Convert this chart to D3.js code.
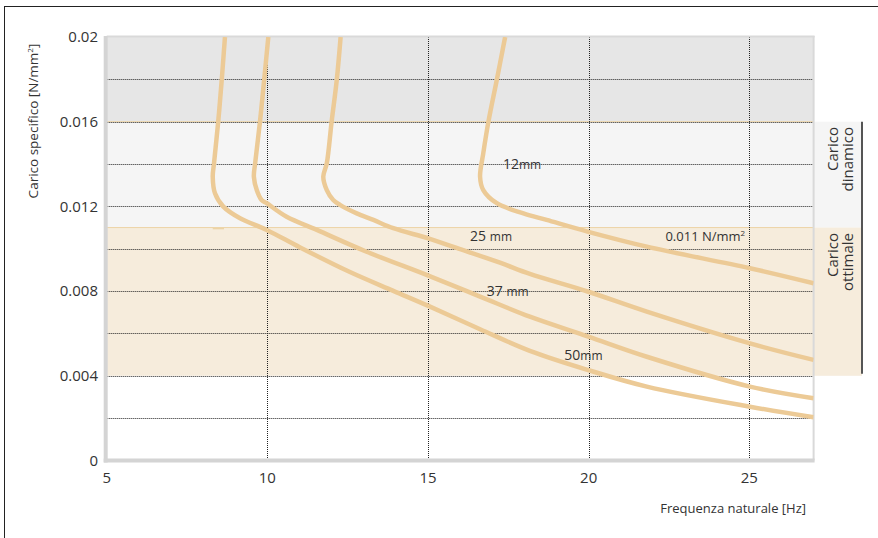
<!DOCTYPE html>
<html>
<head>
<meta charset="utf-8">
<script src="https://cdn.jsdelivr.net/npm/d3@7"></script>
<style>
  html, body { margin: 0; padding: 0; background: #fff; }
  svg { display: block; }
  text { font-family: "Open Sans", "DejaVu Sans", sans-serif; fill: #333; }
</style>
</head>
<body>
<script>
// ---- data ----
const xTicks = [5, 10, 15, 20, 25];
const yTicks = [0, 0.004, 0.008, 0.012, 0.016, 0.02];
const yTickLabels = ["0", "0.004", "0.008", "0.012", "0.016", "0.02"];
const yGrid = [0.002, 0.004, 0.006, 0.008, 0.01, 0.012, 0.014, 0.016, 0.018];
const xGrid = [10, 15, 20, 25];

const freq12 = [17.40, 17.14, 16.88, 16.72, 16.62, 16.72, 17.14, 17.97, 18.69, 19.99, 21.81, 25.02, 27.0];
const load12 = [0.0200, 0.01797, 0.0160, 0.01451, 0.0134, 0.01277, 0.01215, 0.01167, 0.01136, 0.0108, 0.0101, 0.00908, 0.00837];

const freq25 = [12.28, 12.16, 12.00, 11.85, 11.74, 11.85, 12.05, 12.26, 12.78, 13.30, 13.92, 15.01, 15.89, 17.24, 18.17, 19.99, 21.81, 25.02, 27.0];
const load25 = [0.0200, 0.01797, 0.0160, 0.01404, 0.0134, 0.01277, 0.0123, 0.01207, 0.01167, 0.01136, 0.01097, 0.01049, 0.01004, 0.00934, 0.00881, 0.00797, 0.00703, 0.00553, 0.00475];

const freq37 = [10.03, 9.90, 9.77, 9.62, 9.58, 9.67, 9.82, 9.98, 10.60, 11.54, 13.09, 15.01, 16.62, 18.17, 19.99, 21.81, 25.02, 27.0];
const load37 = [0.0200, 0.01797, 0.0160, 0.01404, 0.0134, 0.01277, 0.0123, 0.01215, 0.01151, 0.01089, 0.00986, 0.00873, 0.00774, 0.00679, 0.00585, 0.0049, 0.00349, 0.00294];

const freq50 = [8.68, 8.58, 8.47, 8.34, 8.30, 8.37, 8.63, 9.15, 9.98, 11.02, 12.57, 13.92, 15.01, 16.62, 18.17, 19.99, 21.81, 25.02, 27.0];
const load50 = [0.0200, 0.01797, 0.0160, 0.01404, 0.0134, 0.01262, 0.01199, 0.01144, 0.01089, 0.01006, 0.0089, 0.00801, 0.0073, 0.0062, 0.00518, 0.00427, 0.00349, 0.00254, 0.00204];

const seriesNames = ["12", "25", "37", "50"];
const seriesFreq = [freq12, freq25, freq37, freq50];
const seriesLoad = [load12, load25, load37, load50];
// label anchor (frequency, load) for each series label
const labelFreq = [17.33, 16.31, 16.83, 19.24];
const labelLoad = [0.01377, 0.01038, 0.00777, 0.00475];
const labelGap = [false, true, true, false];

const bandDynamic = [0.011, 0.016];
const bandOptimal = [0.004, 0.011];
const bandTop = [0.016, 0.02];
const optimalLineText = "0.011 N/mm";

// ---- drawing ----
const W = 878, H = 538;
const svg = d3.select("body").append("svg").attr("width", W).attr("height", H);

const x = d3.scaleLinear().domain([5, 27]).range([106.7, 813.6]);
const y = d3.scaleLinear().domain([0, 0.02]).range([460.5, 37]);

// outer frame (left & top edges)
svg.append("line").attr("x1", 4.5).attr("x2", 4.5).attr("y1", 6).attr("y2", H).attr("stroke", "#222").attr("stroke-width", 1);
svg.append("line").attr("x1", 4).attr("x2", W).attr("y1", 6.5).attr("y2", 6.5).attr("stroke", "#222").attr("stroke-width", 1);

const xr = x.range();
const rightExtent = 862;

// bands
svg.append("rect").attr("x", xr[0]).attr("width", xr[1] - xr[0])
  .attr("y", y(bandTop[1])).attr("height", y(bandTop[0]) - y(bandTop[1])).attr("fill", "#e6e6e6");
svg.append("rect").attr("x", xr[0]).attr("width", rightExtent - xr[0])
  .attr("y", y(bandDynamic[1])).attr("height", y(bandDynamic[0]) - y(bandDynamic[1])).attr("fill", "#f5f5f5");
svg.append("rect").attr("x", xr[0]).attr("width", rightExtent - xr[0])
  .attr("y", y(bandOptimal[1])).attr("height", y(bandOptimal[0]) - y(bandOptimal[1])).attr("fill", "#f6ecdc");

// band boundary lines
[bandDynamic[1], bandOptimal[1]].forEach(v => {
  svg.append("line").attr("x1", xr[0]).attr("x2", xr[1]).attr("y1", y(v)).attr("y2", y(v))
    .attr("stroke", "#ecd3a6").attr("stroke-width", 1);
});
// small mark at 0.011
svg.append("line").attr("x1", x(8.3)).attr("x2", x(8.65)).attr("y1", y(0.011) + 1).attr("y2", y(0.011) + 1)
  .attr("stroke", "#ecd3a6").attr("stroke-width", 1.5);

// grid
const grid = svg.append("g");
grid.selectAll("line.h").data(yGrid).join("line").attr("class", "h")
  .attr("x1", xr[0]).attr("x2", xr[1])
  .attr("y1", d => Math.round(y(d)) + 0.5).attr("y2", d => Math.round(y(d)) + 0.5)
  .attr("stroke", "#222").attr("stroke-width", 1).attr("stroke-dasharray", "1,1");
grid.selectAll("line.v").data(xGrid).join("line").attr("class", "v")
  .attr("x1", d => Math.round(x(d)) + 0.5).attr("x2", d => Math.round(x(d)) + 0.5)
  .attr("y1", y(0.02)).attr("y2", y(0))
  .attr("stroke", "#222").attr("stroke-width", 1).attr("stroke-dasharray", "1,1");

// right vertical bracket line
svg.append("line").attr("x1", rightExtent).attr("x2", rightExtent)
  .attr("y1", y(bandDynamic[1])).attr("y2", y(bandOptimal[0]) - 2)
  .attr("stroke", "#555").attr("stroke-width", 2);

// plot frame
svg.append("line").attr("x1", xr[0]).attr("x2", xr[1] + 1).attr("y1", y(0.02) - 0.5).attr("y2", y(0.02) - 0.5)
  .attr("stroke", "#d9d9d9").attr("stroke-width", 2);
svg.append("line").attr("x1", xr[1]).attr("x2", xr[1]).attr("y1", y(0.02) - 1).attr("y2", y(0))
  .attr("stroke", "#d9d9d9").attr("stroke-width", 2);

// curves
const line = d3.line().x(d => x(d[0])).y(d => y(d[1])).curve(d3.curveCatmullRom.alpha(0.5));
svg.append("clipPath").attr("id", "pc").append("rect")
  .attr("x", xr[0]).attr("y", y(0.02)).attr("width", xr[1] - xr[0]).attr("height", y(0) - y(0.02));
seriesNames.forEach((name, i) => {
  const pts = seriesFreq[i].map((f, j) => [f, seriesLoad[i][j]]);
  svg.append("path").datum(pts).attr("d", line)
    .attr("fill", "none").attr("stroke", "#ecca96").attr("stroke-width", 4.5)
    .attr("clip-path", "url(#pc)");
});

// axes lines (thick gray)
svg.append("line").attr("x1", xr[0] - 1).attr("x2", xr[0] - 1).attr("y1", y(0.02) - 1).attr("y2", y(0) + 2)
  .attr("stroke", "#d4d4d4").attr("stroke-width", 4);
svg.append("line").attr("x1", xr[0] - 3).attr("x2", xr[1] + 1).attr("y1", y(0)).attr("y2", y(0))
  .attr("stroke", "#d4d4d4").attr("stroke-width", 4);

// tick labels
svg.append("g").selectAll("text").data(yTicks).join("text")
  .attr("x", 98).attr("y", d => y(d)).attr("dy", "0.35em").attr("text-anchor", "end")
  .attr("font-size", 15).text((d, i) => yTickLabels[i]);
svg.append("g").selectAll("text").data(xTicks).join("text")
  .attr("x", d => x(d)).attr("y", 483).attr("text-anchor", "middle")
  .attr("font-size", 15).text(d => d);

// axis titles
const yt = svg.append("text").attr("transform", "translate(38,121) rotate(-90)")
  .attr("text-anchor", "middle").attr("font-size", 13.5);
yt.append("tspan").text("Carico specifico [N/mm");
yt.append("tspan").attr("font-size", 8).attr("dy", -5).text("2");
yt.append("tspan").attr("dy", 5).text("]");

svg.append("text").attr("x", 806).attr("y", 513).attr("text-anchor", "end")
  .attr("font-size", 13).text("Frequenza naturale [Hz]");

// series labels
seriesNames.forEach((name, i) => {
  const t = svg.append("text").attr("x", x(labelFreq[i])).attr("y", y(labelLoad[i])).attr("font-size", 14);
  t.append("tspan").text(name + (labelGap[i] ? " " : ""));
  t.append("tspan").attr("font-size", 12).text("mm");
});

// 0.011 label
const ol = svg.append("text").attr("x", x(24.87)).attr("y", y(0.01038)).attr("text-anchor", "end").attr("font-size", 13);
ol.append("tspan").text(optimalLineText);
ol.append("tspan").attr("font-size", 8).attr("dy", -5).text("2");

// right band labels (end-aligned toward the top of each band)
function sideLabel(lines, yTop) {
  const t = svg.append("text").attr("transform", `translate(841,${yTop}) rotate(-90)`)
    .attr("text-anchor", "end").attr("font-size", 15);
  t.append("tspan").attr("x", 0).attr("dy", "-0.2em").text(lines[0]);
  t.append("tspan").attr("x", 0).attr("dy", "1.0em").text(lines[1]);
}
sideLabel(["Carico", "dinamico"], 127);
sideLabel(["Carico", "ottimale"], 233);
</script>
</body>
</html>
